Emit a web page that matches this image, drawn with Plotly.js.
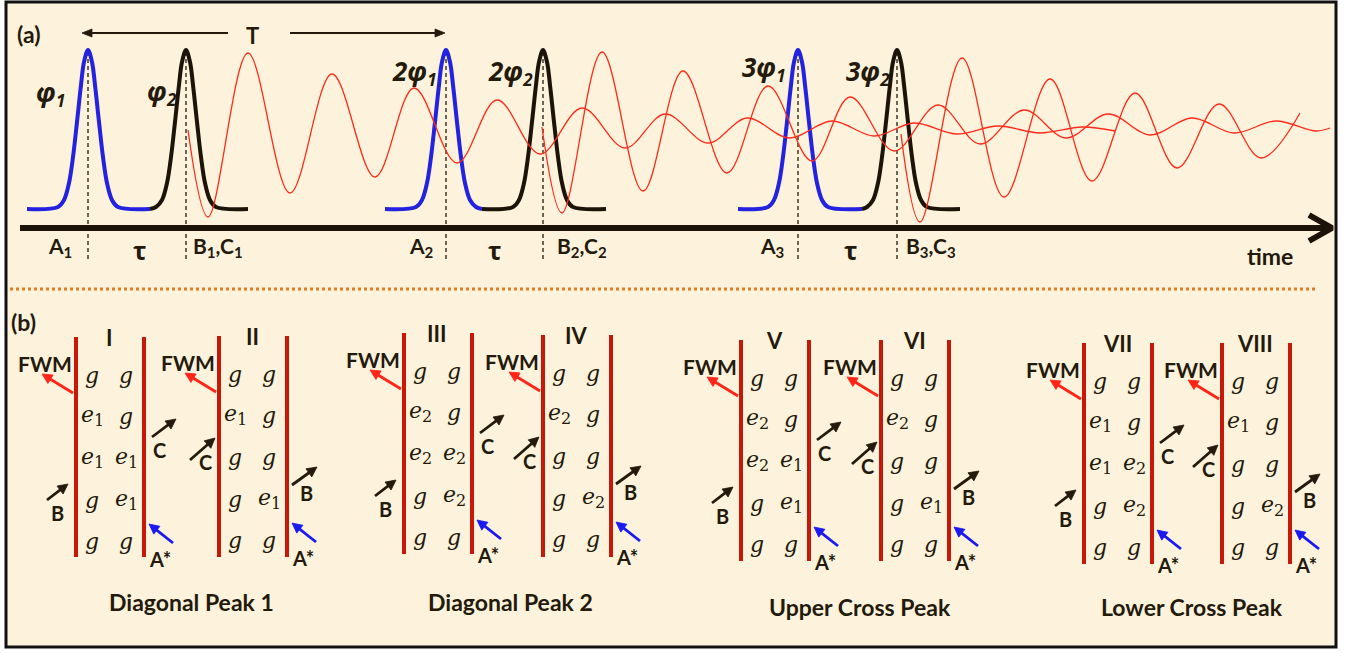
<!DOCTYPE html>
<html><head><meta charset="utf-8">
<script src="https://cdn.plot.ly/plotly-3.0.1.min.js"></script>
<style>html,body{margin:0;padding:0;background:#ffffff;}#chart{width:1347px;height:653px;}</style>
</head><body><div id="chart"></div>
<script>
// ---------------- Panel (a) data ----------------
const pulseLabels = ['φ|1','φ|2','2φ|1','2φ|2','3φ|1','3φ|2'];
const pulseLabelX = [50, 162, 414, 510, 764, 868];
const pulseLabelY = [93, 92, 72, 72, 68, 72];
const blueCenters = [88, 446, 798];
const blackCenters = [186, 543, 897];
const blueStarts = [27, 385, 738];
const pulseSplits = [150, 482, 862];
const blackEnds = [248, 606, 960];
const pulseOffsets = [-30,-24,-19,-15,-11,-7,-4,0,4,7,11,15,19,24,30];
const pulseHeights = [2,9,26,52,87,124,147,159,147,124,87,52,26,9,2];
const pulseBaseline = 209;

const signal1X = [188,208,248,290,332,375,414,457,497,540,582,625,665,708,747,789,832,874,914,956,998,1040,1082,1115];
const signal1Y = [130,217,53,193,74,177,88,163,100,154,108,148,114,143,118,138,121,136,123,134,126,133,127,131];
const signal2X = [542,562,602,643,683,727,768,812,850,894,938,980,1024,1066,1108,1150,1192,1234,1276,1316,1330];
const signal2Y = [127,213,52,191,71,173,86,161,97,151,105,144,110,138,114,135,118,133,121,131,128];
const signal3X = [901,920,962,1004,1050,1092,1135,1177,1219,1261,1300];
const signal3Y = [134,222,58,197,79,181,93,168,104,158,113];

// "|n" marks a subscript digit
const axisLabels = ['A|1','τ','B|1,C|1','A|2','τ','B|2,C|2','A|3','τ','B|3,C|3'];
const axisLabelX = [60, 139, 191, 421, 494, 555, 772, 850, 904];
const axisLabelAnchor = ['center','center','left','center','center','left','center','center','left'];

// ---------------- Panel (b) data ----------------
const diagramNames = ['I','II','III','IV','V','VI','VII','VIII'];
const diagramLeftX = [76, 219, 404, 543, 741, 881, 1084, 1222];
const diagramTopY = [337, 336, 333, 335, 340, 340, 343, 343];
const diagramBottomY = [557, 557, 554, 557, 561, 561, 564, 564];
const diagramStates = [
  [['g','g'],['e1','g'],['e1','e1'],['g','e1'],['g','g']],
  [['g','g'],['e1','g'],['g','g'],['g','e1'],['g','g']],
  [['g','g'],['e2','g'],['e2','e2'],['g','e2'],['g','g']],
  [['g','g'],['e2','g'],['g','g'],['g','e2'],['g','g']],
  [['g','g'],['e2','g'],['e2','e1'],['g','e1'],['g','g']],
  [['g','g'],['e2','g'],['g','g'],['g','e1'],['g','g']],
  [['g','g'],['e1','g'],['e1','e2'],['g','e2'],['g','g']],
  [['g','g'],['e1','g'],['g','g'],['g','e2'],['g','g']]
];
const peakTitles = ['Diagonal Peak 1','Diagonal Peak 2','Upper Cross Peak','Lower Cross Peak'];
const peakTitleX = [191, 510, 860, 1192];
const peakTitleY = [602, 602, 607, 607];

// ---------------- styles ----------------
const INK = '#241a0c';
const BG = '#fdf3dc';
const SANS = 'Lato, "DejaVu Sans", sans-serif';
const GREEK = '"Open Sans", "Noto Sans", "DejaVu Sans", sans-serif';
const SERIF = '"DejaVu Serif", serif';
const WAVE = '#ff2a1a';
const RUNG = '#c8180a';

function subs(t, size, shift) {
  return t.replace(/\|(\d)/g, '<span style="font-size:' + size + 'px;baseline-shift:-' + shift + 'px">$1</span>');
}

const traces = [];
const annotations = [];

function txt(x, y, text, size, o) {
  o = o || {};
  annotations.push({x: x, y: y, xref: 'x', yref: 'y', text: text, showarrow: false,
    xanchor: o.xanchor || 'center', yanchor: 'middle',
    font: {family: o.family || SANS, size: size, color: o.color || INK,
           weight: o.weight || 'bold', style: o.style || 'normal'}});
}
function line(xs, ys, color, width, extra) {
  traces.push({type: 'scatter', mode: 'lines', x: xs, y: ys,
    line: Object.assign({color: color, width: width}, extra || {}), hoverinfo: 'skip'});
}
// arrows grouped by colour: shaft as a line, head as a filled triangle at the tip
const arrowGroups = {};
function arrow(x0, y0, x1, y1, color, width, headLen, headHalf) {
  const key = color + '|' + width;
  if (!arrowGroups[key]) arrowGroups[key] = {color: color, width: width, sx: [], sy: [], hx: [], hy: []};
  const g = arrowGroups[key];
  const dx = x1 - x0, dy = y1 - y0, len = Math.hypot(dx, dy);
  const ux = dx / len, uy = dy / len, nx = -uy, ny = ux;
  const bx = x1 - ux * headLen, by = y1 - uy * headLen;
  g.sx.push(x0, bx + ux * 1, null); g.sy.push(y0, by + uy * 1, null);
  g.hx.push(x1, bx + nx * headHalf, bx - nx * headHalf, x1, null);
  g.hy.push(y1, by + ny * headHalf, by - ny * headHalf, y1, null);
}
function flushArrows() {
  Object.values(arrowGroups).forEach(g => {
    traces.push({type: 'scatter', mode: 'lines', x: g.sx, y: g.sy, hoverinfo: 'skip',
      line: {color: g.color, width: g.width}});
    traces.push({type: 'scatter', mode: 'lines', x: g.hx, y: g.hy, hoverinfo: 'skip',
      fill: 'toself', fillcolor: g.color, line: {color: g.color, width: 0.8}});
  });
}

// dashed vertical markers at pulse centres
const dashX = [], dashY = [];
blueCenters.concat(blackCenters).forEach(c => { dashX.push(c, c, null); dashY.push(52, 262, null); });
line(dashX, dashY, INK, 1.3, {dash: '4px,3px'});

// pulses
for (let k = 0; k < blueCenters.length; k++) {
  const bx = [blueStarts[k]], by = [pulseBaseline];
  pulseOffsets.forEach((d, i) => { bx.push(blueCenters[k] + d); by.push(pulseBaseline - pulseHeights[i]); });
  bx.push(pulseSplits[k]); by.push(pulseBaseline);
  line(bx, by, '#2222e0', 4, {shape: 'spline', smoothing: 1});
  const kx = [pulseSplits[k]], ky = [pulseBaseline];
  pulseOffsets.forEach((d, i) => { kx.push(blackCenters[k] + d); ky.push(pulseBaseline - pulseHeights[i]); });
  kx.push(blackEnds[k]); ky.push(pulseBaseline);
  line(kx, ky, '#1c1408', 4, {shape: 'spline', smoothing: 1});
}

// time axis
line([20, 1328], [228, 228], '#1c1408', 6);
line([1309, 1332, 1309], [215, 228, 241], '#1c1408', 6);

// FWM signals
[[signal1X, signal1Y], [signal2X, signal2Y], [signal3X, signal3Y]].forEach(s => {
  line(s[0], s[1], WAVE, 1.3, {shape: 'spline', smoothing: 1});
});

// separator
line([10, 1318], [289, 289], '#e07c22', 3, {dash: 'dot'});

// panel (a) text
txt(28, 34, '(a)', 23);
txt(252, 35, 'T', 22);
arrow(228, 33, 82, 33, INK, 2, 10, 4);
arrow(290, 33, 445, 33, INK, 2, 10, 4);
pulseLabels.forEach((t, i) => txt(pulseLabelX[i], pulseLabelY[i], subs(t, 17, 5), 26, {family: GREEK, style: 'italic'}));
axisLabels.forEach((t, i) => {
  const isTau = t === 'τ';
  txt(axisLabelX[i], isTau ? 250 : 247, isTau ? t : subs(t, 15, 4), isTau ? 25 : 21,
      {xanchor: axisLabelAnchor[i], family: isTau ? GREEK : SANS});
});
txt(1270, 256, 'time', 23);

// panel (b)
txt(23, 322, '(b)', 23);
const rowOff = [40, 81, 123, 165, 206];
function stateText(s) {
  return s === 'g' ? '<i>g</i>' : '<i>e</i>' + subs('|' + s.slice(1), 16, 4);
}
const rungX = [], rungY = [];
diagramNames.forEach((name, i) => {
  const L = diagramLeftX[i], T = diagramTopY[i], B = diagramBottomY[i], R = L + 68;
  rungX.push(L, L, null, R, R, null);
  rungY.push(T, B, null, T, B, null);
  txt(L + 33, T, name, 22);
  txt(L - 31, T + 26, 'FWM', 21);
  arrow(L - 3, T + 56, L - 34, T + 37, '#ff2418', 2.8, 10, 5);
  diagramStates[i].forEach((row, r) => {
    txt(L + 16, T + rowOff[r] - 2, stateText(row[0]), 22, {family: SERIF, weight: 'normal'});
    txt(L + 50, T + rowOff[r] - 2, stateText(row[1]), 22, {family: SERIF, weight: 'normal'});
  });
  if (i % 2 === 0) {
    arrow(L + 76, T + 100, L + 100, T + 82, INK, 2.8, 10, 5);
    txt(L + 83, T + 113, 'C', 20);
    arrow(L - 29, T + 163, L - 8, T + 147, INK, 2.8, 10, 5);
    txt(L - 19, T + 176, 'B', 20);
  } else {
    arrow(L - 29, T + 124, L - 4, T + 102, INK, 2.8, 10, 5);
    txt(L - 14, T + 126, 'C', 20);
    arrow(L + 73, T + 149, L + 98, T + 131, INK, 2.8, 10, 5);
    txt(L + 87, T + 157, 'B', 20);
  }
  arrow(L + 97, T + 206, L + 73, T + 187, '#1a1af0', 2.8, 10, 5);
  txt(L + 84, T + 222, 'A*', 20);
});
line(rungX, rungY, RUNG, 4);
flushArrows();
peakTitles.forEach((t, i) => txt(peakTitleX[i], peakTitleY[i], t, 23));

const layout = {
  width: 1347, height: 653,
  margin: {l: 0, r: 0, t: 0, b: 0},
  paper_bgcolor: '#ffffff', plot_bgcolor: 'rgba(0,0,0,0)',
  showlegend: false,
  xaxis: {range: [0, 1347], visible: false, fixedrange: true},
  yaxis: {range: [653, 0], visible: false, fixedrange: true},
  shapes: [{type: 'rect', xref: 'x', yref: 'y', x0: 6, x1: 1336, y0: 2, y1: 647,
            line: {color: '#111111', width: 3}, fillcolor: BG, layer: 'below'}],
  annotations: annotations,
  hovermode: false
};
Plotly.newPlot('chart', traces, layout, {staticPlot: true, displayModeBar: false});
</script></body></html>
